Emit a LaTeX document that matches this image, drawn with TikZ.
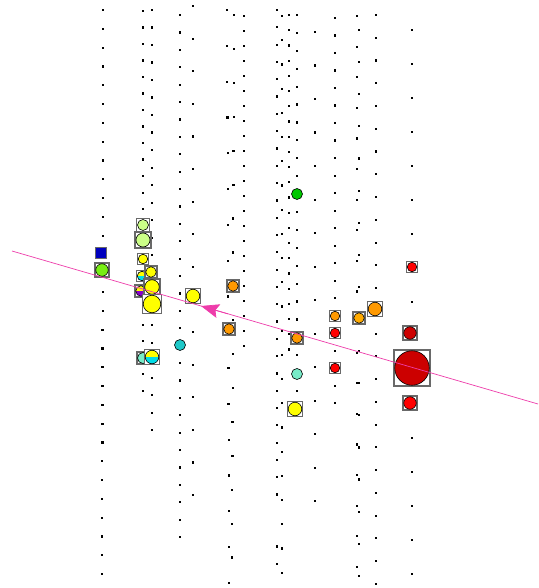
\documentclass[tikz,border=0pt]{standalone}
\usetikzlibrary{arrows.meta}
\definecolor{lgreen}{RGB}{204,255,136}
\definecolor{yel}{RGB}{255,255,0}
\definecolor{orng}{RGB}{255,153,0}
\definecolor{lorng}{RGB}{255,170,0}
\definecolor{cyn}{RGB}{0,220,230}
\definecolor{teal2}{RGB}{30,200,200}
\definecolor{aqua}{RGB}{120,235,200}
\definecolor{grn}{RGB}{0,200,0}
\definecolor{lgrn}{RGB}{120,238,20}
\definecolor{blu}{RGB}{0,0,190}
\definecolor{purp}{RGB}{136,0,204}
\definecolor{rd}{RGB}{255,0,0}
\definecolor{drd}{RGB}{204,0,0}
\definecolor{pinkline}{RGB}{238,60,170}
\definecolor{framegray}{RGB}{105,105,105}
\begin{document}
\begin{tikzpicture}[x=1pt,y=-1pt,
  frame/.style={rectangle, draw=framegray, line width=1.3pt, fill=white, minimum size=#1, inner sep=0pt, outer sep=0pt},
  ball/.style 2 args={circle, draw=black, line width=0.6pt, fill=#2, minimum size=#1, inner sep=0pt, outer sep=0pt},
  halfball/.style n args={3}{circle, draw=black, line width=0.6pt, fill=#3, minimum size=#1, inner sep=0pt, outer sep=0pt,
    path picture={\fill[#2] (path picture bounding box.north west) rectangle (path picture bounding box.east);}},
  bluesq/.style={rectangle, draw=framegray, line width=1.3pt, fill=blu, minimum size=#1, inner sep=0pt},
  axisline/.style={draw=pinkline, line width=0.7pt},
  arrowtip/.style={draw=pinkline, fill=pinkline, line width=0.7pt, -{Stealth[length=18pt,width=14pt,inset=3pt]}}
]
\useasboundingbox (0,0) rectangle (538,588);
\fill[white] (0,0) rectangle (538,588);
% dot columns: x / y0 / dy / last k / x drift per k
\foreach \cx/\cy/\cd/\cn/\cdx in {
  103/10/18.8/30/-0.03,
  143/11/16.5/23/0,
  152/10/17.5/24/0,
  180/15/17.4/30/0,
  193/6/32.6/15/0,
  227/10/35.8/16/0.13,
  234/15/33.9/16/-0.13,
  244/16/15/22/0,
  277/10/17.3/28/0,
  277/546.3/17.3/1/0,
  282/16/24.2/23/0,
  289/15/15.2/22/0,
  297/15/17.9/21/0,
  315/32/33.5/14/0,
  335/18/17.5/22/0,
  357/16/30.6/18/0,
  359/30/32.1/17/0,
  376/15/22.75/25/0,
  412/30/34/16/0}{
  \foreach \k in {0,...,\cn}{
    \pgfmathsetmacro{\px}{\cx+\k*\cdx-1}
    \pgfmathsetmacro{\py}{\cy+\k*\cd-1}
    \fill[black] (\px,\py) rectangle ++(2.2,2.2);
  }
}
% nodes
\node[frame=13] (f1) at (143,225) {};
\node[ball={11pt}{lgreen}] (b1) at (143,225) {};
\node[frame=16] (f2) at (143,240) {};
\node[ball={14pt}{lgreen}] (b2) at (143,240) {};
\node[bluesq=11] (b3) at (101,253) {};
\node[frame=14] (f4) at (102,270) {};
\node[ball={12.5pt}{lgrn}] (b4) at (102,270) {};
\node[frame=11] (f5) at (143,259) {};
\node[ball={9.5pt}{yel}] (b5) at (143,259) {};
\node[frame=11] (f6) at (142,276) {};
\node[halfball={9.5pt}{yel}{cyn}] (b6) at (142,276) {};
\node[frame=12] (f7) at (151,272) {};
\node[ball={10.5pt}{yel}] (b7) at (151,272) {};
\node[frame=12] (f8) at (141,291) {};
\node[halfball={10.5pt}{yel}{purp}] (b8) at (141,291) {};
\node[frame=16] (f9) at (152,287) {};
\node[ball={14.5pt}{yel}] (b9) at (152,287) {};
\node[frame=19] (f10) at (152,304) {};
\node[ball={17.5pt}{yel}] (b10) at (152,304) {};
\node[frame=15] (f11) at (193,296) {};
\node[ball={13.5pt}{yel}] (b11) at (193,296) {};
\node[frame=12] (f12) at (233,286) {};
\node[ball={10.5pt}{orng}] (b12) at (233,286) {};
\node[frame=12] (f13) at (229,329) {};
\node[ball={10.5pt}{orng}] (b13) at (229,329) {};
\node[ball={11pt}{teal2}] (b14) at (180,345) {};
\node[frame=12] (f15) at (143,358) {};
\node[ball={11pt}{aqua}] (b15) at (143,358) {};
\node[frame=15] (f16) at (152,357) {};
\node[halfball={13.5pt}{yel}{cyn}] (b16) at (152,357) {};
\node[ball={11pt}{grn}] (b17) at (297,194) {};
\node[frame=12] (f18) at (297,338) {};
\node[ball={10.5pt}{orng}] (b18) at (297,338) {};
\node[ball={11pt}{aqua}] (b19) at (297,374) {};
\node[frame=15] (f20) at (295,409) {};
\node[ball={13.5pt}{yel}] (b20) at (295,409) {};
\node[frame=11] (f21) at (335,316) {};
\node[ball={9.5pt}{orng}] (b21) at (335,316) {};
\node[frame=12] (f22) at (359,318) {};
\node[ball={10.5pt}{lorng}] (b22) at (359,318) {};
\node[frame=15] (f23) at (375,309) {};
\node[ball={13.5pt}{orng}] (b23) at (375,309) {};
\node[frame=11] (f24) at (335,333) {};
\node[ball={9.5pt}{rd}] (b24) at (335,333) {};
\node[frame=11] (f25) at (335,368) {};
\node[ball={9.5pt}{rd}] (b25) at (335,368) {};
\node[frame=11] (f26) at (412,267) {};
\node[ball={9.5pt}{rd}] (b26) at (412,267) {};
\node[frame=14] (f27) at (410,333) {};
\node[ball={12.5pt}{drd}] (b27) at (410,333) {};
\node[frame=36] (f28) at (412,368) {};
\node[ball={34.5pt}{drd}] (b28) at (412,368) {};
\node[frame=14] (f29) at (410,403) {};
\node[ball={12.5pt}{rd}] (b29) at (410,403) {};
% axis line with arrow
\coordinate (la) at (12,251);
\coordinate (lb) at (538,404);
\coordinate (atail) at (228,313.9);
\coordinate (atip) at (201,306);
\draw[axisline] (la) -- (lb);
\draw[arrowtip] (atail) -- (atip);
\end{tikzpicture}
\end{document}
